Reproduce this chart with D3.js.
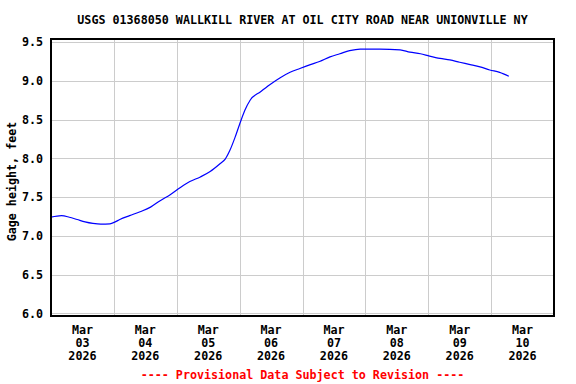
<!DOCTYPE html>
<html>
<head>
<meta charset="utf-8">
<script src="https://cdn.jsdelivr.net/npm/d3@7"></script>
<style>
  body { margin: 0; background: #fff; }
  svg text { font-family: "DejaVu Sans Mono", monospace; font-weight: bold; }
</style>
</head>
<body>
<svg class="chart" width="576" height="384"></svg>
<script>
// gage height readings (time, feet)
const times = [
  "2026-03-03T00:00", "2026-03-03T04:00", "2026-03-03T07:00", "2026-03-03T10:00",
  "2026-03-03T13:00", "2026-03-03T16:00", "2026-03-03T19:00", "2026-03-03T22:30",
  "2026-03-04T00:30", "2026-03-04T02:15", "2026-03-04T06:00", "2026-03-04T10:00",
  "2026-03-04T14:00", "2026-03-04T17:30", "2026-03-04T21:30", "2026-03-05T01:15",
  "2026-03-05T05:00", "2026-03-05T09:00", "2026-03-05T12:45", "2026-03-05T16:30",
  "2026-03-05T18:30", "2026-03-05T20:15", "2026-03-05T22:15", "2026-03-06T00:00",
  "2026-03-06T02:00", "2026-03-06T04:00", "2026-03-06T08:00", "2026-03-06T11:30",
  "2026-03-06T15:30", "2026-03-06T19:15", "2026-03-06T23:00", "2026-03-07T03:00",
  "2026-03-07T06:30", "2026-03-07T10:30", "2026-03-07T14:15", "2026-03-07T18:00",
  "2026-03-07T22:00", "2026-03-08T05:30", "2026-03-08T13:15", "2026-03-08T17:00",
  "2026-03-08T21:00", "2026-03-09T00:30", "2026-03-09T04:30", "2026-03-09T08:15",
  "2026-03-09T12:00", "2026-03-09T16:00", "2026-03-09T19:45", "2026-03-09T23:30",
  "2026-03-10T03:15", "2026-03-10T06:45"
];
const gage = [
  7.24, 7.26, 7.24, 7.21,
  7.18, 7.16, 7.15, 7.155,
  7.18, 7.21, 7.26, 7.31,
  7.37, 7.45, 7.53, 7.62,
  7.70, 7.76, 7.83, 7.93,
  7.99, 8.10, 8.27, 8.44,
  8.62, 8.75, 8.86, 8.95,
  9.04, 9.11, 9.16, 9.21,
  9.25, 9.31, 9.35, 9.39,
  9.41, 9.41, 9.40, 9.37,
  9.35, 9.32, 9.29, 9.27,
  9.24, 9.21, 9.18, 9.14,
  9.11, 9.06
];
const yTicks = [6.0, 6.5, 7.0, 7.5, 8.0, 8.5, 9.0, 9.5];
const dayTicks = ["2026-03-03", "2026-03-04", "2026-03-05", "2026-03-06",
                  "2026-03-07", "2026-03-08", "2026-03-09", "2026-03-10"];
const xStart = "2026-03-03", xEnd = "2026-03-11";

const title = "USGS 01368050 WALLKILL RIVER AT OIL CITY ROAD NEAR UNIONVILLE NY";
const yLabel = "Gage height, feet";
const footer = "---- Provisional Data Subject to Revision ----";

const parseT = d3.timeParse("%Y-%m-%dT%H:%M");
const parseD = d3.timeParse("%Y-%m-%d");
const data = times.map((t, i) => ({ t: parseT(t), v: gage[i] }));

let leftX = 51, rightX = 554, topY = 39, bottomY = 316;

const svg = d3.select(".chart");

const xScale = d3.scaleTime().domain([parseD(xStart), parseD(xEnd)]).range([leftX, rightX]);
const yScale = d3.scaleLinear().domain([5.965, 9.54]).range([bottomY, topY]);

// grid lines
svg.append("g")
  .selectAll("line")
  .data(yTicks)
  .enter()
  .append("line")
  .attr("x1", leftX).attr("x2", rightX)
  .attr("y1", (d) => Math.round(yScale(d)) + 0.5)
  .attr("y2", (d) => Math.round(yScale(d)) + 0.5)
  .attr("stroke", "#cccccc")
  .attr("stroke-width", 1);

svg.append("g")
  .selectAll("line")
  .data(dayTicks.slice(1))
  .enter()
  .append("line")
  .attr("x1", (d) => Math.round(xScale(parseD(d))) + 0.5)
  .attr("x2", (d) => Math.round(xScale(parseD(d))) + 0.5)
  .attr("y1", topY).attr("y2", bottomY)
  .attr("stroke", "#cccccc")
  .attr("stroke-width", 1);

// y tick labels
svg.append("g")
  .selectAll("text")
  .data(yTicks)
  .enter()
  .append("text")
  .attr("x", 43)
  .attr("y", (d) => yScale(d))
  .attr("dy", "0.36em")
  .attr("text-anchor", "end")
  .style("font-size", "11.7px")
  .text((d) => d3.format(".1f")(d));

// x tick labels at noon of each day
const fmtMon = d3.timeFormat("%b"), fmtDay = d3.timeFormat("%d"), fmtYr = d3.timeFormat("%Y");
const xLab = svg.append("g")
  .selectAll("text")
  .data(dayTicks)
  .enter()
  .append("text")
  .attr("text-anchor", "middle")
  .style("font-size", "11.7px");
[fmtMon, fmtDay, fmtYr].forEach((f, i) => {
  xLab.append("tspan")
    .attr("x", (d) => xScale(d3.timeHour.offset(parseD(d), 12)))
    .attr("y", 334 + i * 13)
    .text((d) => f(parseD(d)));
});

// the series
svg.append("path")
  .datum(data)
  .attr("fill", "none")
  .attr("stroke", "#0000ff")
  .attr("stroke-width", 1.2)
  .attr("d", d3.line().x((d) => xScale(d.t)).y((d) => yScale(d.v)).curve(d3.curveMonotoneX));

// frame
svg.append("rect")
  .attr("x", leftX).attr("y", topY)
  .attr("width", rightX - leftX).attr("height", bottomY - topY)
  .attr("fill", "none")
  .attr("stroke", "#000")
  .attr("stroke-width", 2);

svg.append("text")
  .attr("x", (leftX + rightX) / 2)
  .attr("y", 24)
  .attr("text-anchor", "middle")
  .style("font-size", "11.7px")
  .text(title);

svg.append("text")
  .attr("transform", `translate(16,${(topY + bottomY) / 2 + 4}) rotate(-90)`)
  .attr("text-anchor", "middle")
  .style("font-size", "11.7px")
  .text(yLabel);

svg.append("text")
  .attr("x", (leftX + rightX) / 2)
  .attr("y", 379)
  .attr("text-anchor", "middle")
  .style("font-size", "11.7px")
  .attr("fill", "#ff0000")
  .text(footer);
</script>
</body>
</html>
